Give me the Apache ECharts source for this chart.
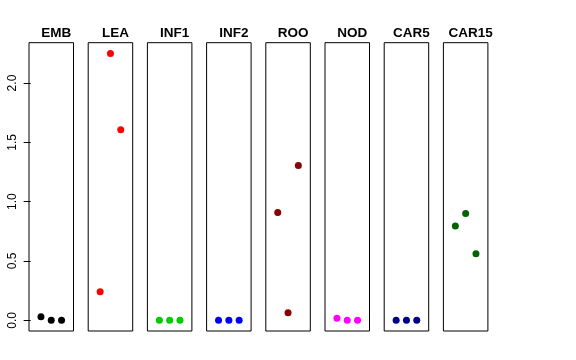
<!DOCTYPE html>
<html><head><meta charset="utf-8">
<script src="https://cdn.jsdelivr.net/npm/echarts@6/dist/echarts.min.js"></script>
<style>html,body{margin:0;padding:0;background:#fff}#c{width:576px;height:360px}</style>
</head><body><div id="c"></div>
<script>
const panels = ['EMB','LEA','INF1','INF2','ROO','NOD','CAR5','CAR15'];
const xPositions = [1, 2, 3];
const EMB   = [0.03, 0.0, 0.0];
const LEA   = [0.24, 2.25, 1.606];
const INF1  = [0.0, 0.0, 0.0];
const INF2  = [0.0, 0.0, 0.0];
const ROO   = [0.908, 0.064, 1.305];
const NOD   = [0.017, 0.0, 0.0];
const CAR5  = [0.0, 0.0, 0.0];
const CAR15 = [0.796, 0.90, 0.562];
const yTicks = [0, 0.5, 1, 1.5, 2];
const yTickLabels = ['0.0', '0.5', '1.0', '1.5', '2.0'];

const panelValues = [EMB, LEA, INF1, INF2, ROO, NOD, CAR5, CAR15];
const colors = ['#000000', '#FF0000', '#00CD00', '#0000FF', '#8B0000', '#FF00FF', '#00008B', '#006400'];

const gx0 = 29, gStep = 59.2, gW = 44.5, gTop = 42.7, gH = 288.3;
const grids = [], xAxes = [], yAxes = [], series = [], titles = [];
panels.forEach((name, i) => {
  const left = gx0 + gStep * i;
  grids.push({left: left, top: gTop, width: gW, height: gH, show: true, borderColor: '#000', borderWidth: 1, backgroundColor: 'transparent', containLabel: false});
  xAxes.push({type: 'value', gridIndex: i, min: -0.16, max: 4.16, show: false});
  const yAx = {type: 'value', gridIndex: i, min: -0.09, max: 2.34, splitLine: {show: false}, axisLine: {show: false}};
  if (i === 0) {
    yAx.axisTick = {show: true, length: 7, lineStyle: {color: '#000'}, customValues: yTicks};
    yAx.axisLabel = {show: true, rotate: 90, margin: 10, color: '#000', fontSize: 12, fontFamily: 'Liberation Sans, Arial, sans-serif',
      customValues: yTicks, formatter: v => { const k = yTicks.indexOf(v); return k >= 0 ? yTickLabels[k] : ''; }};
  } else {
    yAx.axisTick = {show: false};
    yAx.axisLabel = {show: false};
  }
  yAxes.push(yAx);
  series.push({type: 'scatter', xAxisIndex: i, yAxisIndex: i, symbol: 'circle', symbolSize: 7,
    itemStyle: {color: colors[i], opacity: 1}, data: panelValues[i].map((v, k) => [xPositions[k], v]), silent: true});
  titles.push({text: name, left: left + gW / 2, top: 21, textAlign: 'center',
    textStyle: {fontSize: 13.5, fontWeight: 'bold', color: '#000', fontFamily: 'Liberation Sans, Arial, sans-serif'}});
});

const chart = echarts.init(document.getElementById('c'), null, {renderer: 'canvas'});
chart.setOption({
  animation: false,
  backgroundColor: '#fff',
  title: titles,
  grid: grids,
  xAxis: xAxes,
  yAxis: yAxes,
  series: series
});
</script>
</body></html>
